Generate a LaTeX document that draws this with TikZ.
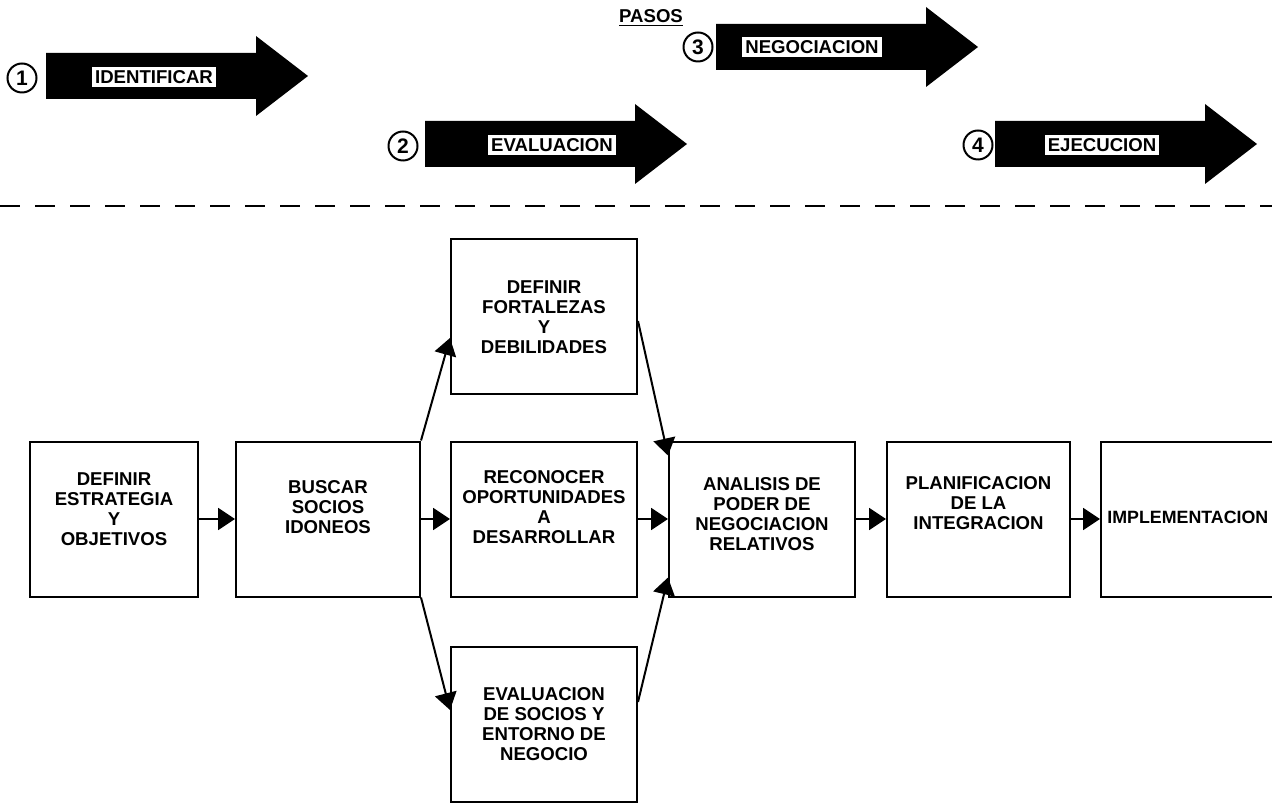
\documentclass[tikz,border=0pt]{standalone}
\usepackage{fontspec}
\setmainfont{Liberation Sans}
\usetikzlibrary{arrows.meta, positioning, calc}

\begin{document}
\begin{tikzpicture}[
    x=0.5pt, y=-0.5pt,
    node distance=15pt,
    stepbox/.style={rectangle, draw=black, line width=1pt, fill=white,
                    minimum width=93pt, minimum height=77.5pt, inner sep=2pt},
    boxtext/.style={align=center, inner sep=0pt,
                    font=\bfseries\fontsize{9.3}{10}\selectfont},
    steplabel/.style={rectangle, fill=white, inner sep=1.5pt,
                      font=\bfseries\fontsize{9.3}{10}\selectfont},
    stepnum/.style={circle, draw=black, line width=1pt, minimum size=14.5pt,
                    inner sep=0pt, font=\bfseries\fontsize{10.5}{10.5}\selectfont},
    flow/.style={-{Triangle[length=8.5pt, width=11pt]}, line width=1pt},
    divider/.style={dash pattern=on 10pt off 7.5pt, line width=1pt},
]

\useasboundingbox (0,0) rectangle (1272,806);

% Title
\node[font=\bfseries\fontsize{9.3}{10}\selectfont] (title) at (651,18) {\underline{PASOS}};

% --- Pasos (block arrows) ---
\coordinate (a1) at (46,76);
\coordinate (a2) at (425,144);
\coordinate (a3) at (716,47);
\coordinate (a4) at (995,144);
\fill (a1) -- ++(0,-23) -- ++(210,0) -- ++(0,-17) -- ++(52,40) -- ++(-52,40) -- ++(0,-17) -- ++(-210,0) -- cycle;
\fill (a2) -- ++(0,-23) -- ++(210,0) -- ++(0,-17) -- ++(52,40) -- ++(-52,40) -- ++(0,-17) -- ++(-210,0) -- cycle;
\fill (a3) -- ++(0,-23) -- ++(210,0) -- ++(0,-17) -- ++(52,40) -- ++(-52,40) -- ++(0,-17) -- ++(-210,0) -- cycle;
\fill (a4) -- ++(0,-23) -- ++(210,0) -- ++(0,-17) -- ++(52,40) -- ++(-52,40) -- ++(0,-17) -- ++(-210,0) -- cycle;

\node[stepnum] (n1) at (22,78) {1};
\node[stepnum] (n2) at (403,146) {2};
\node[stepnum] (n3) at (698,47) {3};
\node[stepnum] (n4) at (978,145) {4};

\node[steplabel] (l1) at (154,77) {IDENTIFICAR};
\node[steplabel] (l2) at (552,145) {EVALUACION};
\node[steplabel] (l3) at (812,47) {NEGOCIACION};
\node[steplabel] (l4) at (1102,145) {EJECUCION};

% Separator
\coordinate (dl) at (0,206);
\coordinate (dr) at (1272,206);
\draw[divider] (dl) -- (dr);

% --- Process boxes ---
\node[stepbox, minimum width=84pt,
      label={[boxtext, yshift=5pt]center:DEFINIR\\ESTRATEGIA\\Y\\OBJETIVOS}] (b1) at (114,519) {};
\node[stepbox, minimum width=92pt, right=18pt of b1,
      label={[boxtext, yshift=6pt]center:BUSCAR\\SOCIOS\\IDONEOS}] (b2) {};
\node[stepbox, right=14.5pt of b2,
      label={[boxtext, yshift=6pt]center:RECONOCER\\OPORTUNIDADES\\A\\DESARROLLAR}] (b4) {};
\node[stepbox, above=22.5pt of b4,
      label={[boxtext]center:DEFINIR\\FORTALEZAS\\Y\\DEBILIDADES}] (b3) {};
\node[stepbox, below=24pt of b4,
      label={[boxtext]center:EVALUACION\\DE SOCIOS Y\\ENTORNO DE\\NEGOCIO}] (b5) {};
\node[stepbox, right=of b4,
      label={[boxtext, yshift=2.5pt]center:ANALISIS DE\\PODER DE\\NEGOCIACION\\RELATIVOS}] (b6) {};
\node[stepbox, minimum width=91.5pt, right=of b6,
      label={[boxtext, yshift=8pt]center:PLANIFICACION\\DE LA\\INTEGRACION}] (b7) {};
\node[stepbox, minimum width=95pt, right=14.5pt of b7,
      label={[boxtext, font=\bfseries\fontsize{8.9}{10}\selectfont, anchor=west, xshift=3.5pt, yshift=1pt]west:IMPLEMENTACION}] (b8) {};

% --- Arrows ---
\draw[flow] (b1.east) -- (b2.west);
\draw[flow] (b2.east) -- (b4.west);
\draw[flow] (b4.east) -- (b6.west);
\draw[flow] (b6.east) -- (b7.west);
\draw[flow] (b7.east) -- (b8.west);

% Branches around the middle column
\draw[flow] (b2.north east) -- ($(b3.west)+(0,21)$);
\draw[flow] (b2.south east) -- ($(b5.west)+(0,-14)$);
\draw[flow] ($(b3.east)+(0,4)$) -- ($(b6.north west)+(0,15)$);
\draw[flow] ($(b5.east)+(0,-22)$) -- ($(b6.south west)+(0,-20)$);

\end{tikzpicture}
\end{document}
